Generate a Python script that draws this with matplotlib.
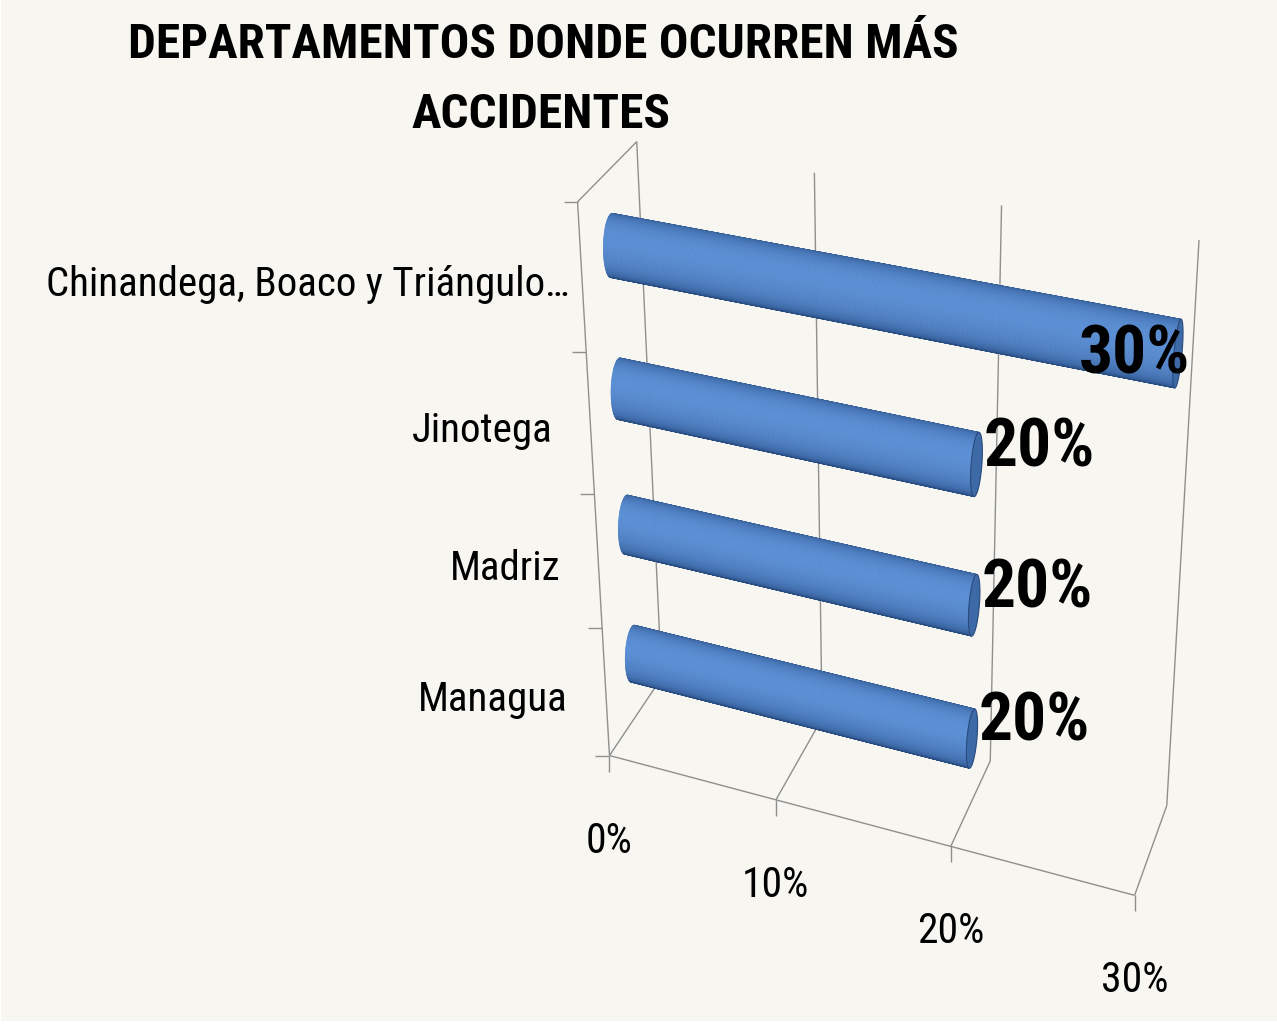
import numpy as np
import matplotlib
matplotlib.use('Agg')
import matplotlib.pyplot as plt
from matplotlib.collections import PolyCollection, LineCollection

# ---------------- data ----------------
categories = ["Managua", "Madriz", "Jinotega", "Chinandega, Boaco y Triángulo…"]
values = [20, 20, 20, 30]
value_labels = ["20%", "20%", "20%", "30%"]
x_ticks = [0, 10, 20, 30]
x_tick_labels = ["0%", "10%", "20%", "30%"]
title_lines = ["DEPARTAMENTOS DONDE OCURREN MÁS", "ACCIDENTES"]

# ---------------- perspective camera (layout) ----------------
# world: X = value (%), Y = depth (0 front .. 1 back), Z = category height (0..4)
P = np.array([[14.78654, 81.17838, -22.67037, 609.4672],
              [2.515559, -47.84562, -143.5562, 755.5113],
              [-0.002395969, 0.04399374, -0.02543972, 1.0]])
_, _, Vt = np.linalg.svd(P)
cam = Vt[-1][:3] / Vt[-1][3]

def proj(pts):
    pts = np.atleast_2d(np.asarray(pts, float))
    h = np.c_[pts, np.ones(len(pts))] @ P.T
    return h[:, :2] / h[:, 2:3]

ZTOP = len(categories)
YC = 0.5          # bar depth position
DEPTH = 1.5       # physical depth of box in category units
RAD = 0.21        # bar radius in category units

plt.rcParams['font.family'] = ['Roboto Condensed', 'DejaVu Sans']

fig = plt.figure(figsize=(12.77, 10.28), dpi=100)
fig.patch.set_facecolor('white')
ax = fig.add_axes([0, 0, 1, 1])
ax.set_xlim(0, 1277); ax.set_ylim(1028, 0); ax.axis('off')
ax.add_patch(plt.Rectangle((1, 0), 1276, 1021, facecolor='#F7F6F1', edgecolor='none', zorder=0))

GRID = '#8F8F8F'
segs = []
for v in x_ticks:
    segs.append(proj([(v, 1, 0), (v, 1, ZTOP)]))       # back wall verticals
    segs.append(proj([(v, 0, 0), (v, 1, 0)]))          # floor depth lines
segs.append(proj([(x_ticks[0], 0, 0), (x_ticks[-1], 0, 0)]))   # floor front edge
segs.append(proj([(0, 0, 0), (0, 0, ZTOP)]))                  # left wall front edge
segs.append(proj([(0, 0, ZTOP), (0, 1, ZTOP)]))               # left wall top edge
for k in range(ZTOP + 1):
    p = proj([(0, 0, k)])[0]
    segs.append(np.array([p, p + (-14, 0)]))
for v in x_ticks:
    p = proj([(v, 0, 0)])[0]
    segs.append(np.array([p, p + (0, 16)]))
ax.add_collection(LineCollection(segs, colors=GRID, linewidths=1.0, zorder=1))

dark = np.array([0.15, 0.29, 0.50])
light = np.array([0.37, 0.58, 0.86])
capc = np.array([0.24, 0.41, 0.65])
capedge = np.array([0.16, 0.29, 0.49])

th = np.linspace(0, 2 * np.pi, 181)
vmax = max(values)
for k, val in enumerate(values):
    zc = k + 0.5
    ry = RAD / DEPTH
    xs = np.linspace(0, val, 5)
    polys, cols = [], []
    for i in range(len(th) - 1):
        t0, t1 = th[i], th[i + 1]
        tm = 0.5 * (t0 + t1)
        n = np.array([np.cos(tm), np.sin(tm)])
        for j in range(len(xs) - 1):
            xm = 0.5 * (xs[j] + xs[j + 1])
            pm = np.array([xm, YC + ry * np.cos(tm), zc + RAD * np.sin(tm)])
            vv = np.array([(cam[1] - pm[1]) * DEPTH, cam[2] - pm[2]])
            f = n @ vv / np.linalg.norm(vv)
            if f <= 0:
                continue
            quad = [(xs[j], YC + ry * np.cos(t0), zc + RAD * np.sin(t0)),
                    (xs[j + 1], YC + ry * np.cos(t0), zc + RAD * np.sin(t0)),
                    (xs[j + 1], YC + ry * np.cos(t1), zc + RAD * np.sin(t1)),
                    (xs[j], YC + ry * np.cos(t1), zc + RAD * np.sin(t1))]
            polys.append(proj(quad))
            up = max(0.0, np.sin(tm))
            s = np.clip(0.85 * f ** 0.8 + 0.15 * up, 0, 1)
            cols.append(dark + (light - dark) * s)
    ax.add_collection(PolyCollection(polys, facecolors=cols, edgecolors=cols, linewidths=0.5, zorder=3))
    if cam[0] > val:
        ring = [(val, YC + ry * np.cos(t), zc + RAD * np.sin(t)) for t in th]
        ax.add_patch(plt.Polygon(proj(ring), closed=True, facecolor=capc, edgecolor=capedge, lw=0.8, zorder=4))
    # value label
    end = proj([(val, YC, zc)])[0]
    if val == vmax:
        ax.text(end[0] + 12, end[1] + 20, value_labels[k], ha='right', va='baseline',
                fontsize=48.5, fontweight='bold', color='black', zorder=6)
    else:
        ax.text(end[0] + 7, end[1] + 2, value_labels[k], ha='left', va='baseline',
                fontsize=48.5, fontweight='bold', color='black', zorder=6)
    # category label
    lp = proj([(0, 0, zc)])[0]
    pad = 13 if categories[k].endswith('…') else 38
    ax.text(lp[0] - pad, lp[1] + 18, categories[k], ha='right', va='baseline',
            fontsize=29.5, color='black', zorder=5)

for v, lab in zip(x_ticks, x_tick_labels):
    p = proj([(v, 0, 0)])[0]
    ax.text(p[0], p[1] + 97, lab, ha='center', va='baseline', fontsize=30, color='black', zorder=5)

ax.text(543, 58, title_lines[0], ha='center', va='baseline', fontsize=35.5, fontweight='bold', zorder=5)
ax.text(541, 128, title_lines[1], ha='center', va='baseline', fontsize=35.5, fontweight='bold', zorder=5)

fig.savefig('out.png', dpi=100, facecolor=fig.get_facecolor())
